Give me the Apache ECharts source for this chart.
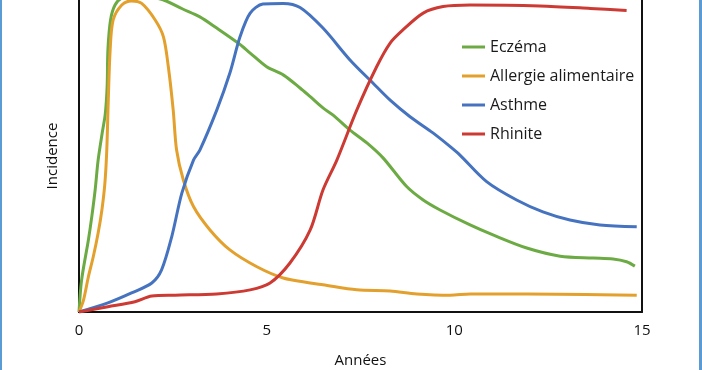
<!DOCTYPE html>
<html><head><meta charset="utf-8">
<script src="https://cdn.jsdelivr.net/npm/echarts@6/dist/echarts.min.js"></script>
<style>html,body{margin:0;padding:0;background:#fff}#c{width:702px;height:370px}</style>
</head><body><div id="c"></div>
<script>
const seriesNames = ['Eczéma', 'Allergie alimentaire', 'Asthme', 'Rhinite'];
const xTicks = [0, 5, 10, 15];
const eczema = [[0,0],[0.07,10.3],[0.25,23.1],[0.34,30.5],[0.43,39.1],[0.51,48.7],[0.62,57.5],[0.7,63.5],[0.75,72.4],[0.77,84.0],[0.84,93.6],[0.96,98.4],[1.15,100.6],[1.6,101],[2.1,100.5],[2.34,99.6],[2.75,97.2],[3.22,94.6],[3.67,91.0],[4.24,86.2],[4.56,83.0],[5.0,78.6],[5.44,76.0],[5.89,71.8],[6.16,69.0],[6.5,65.4],[6.77,63.1],[7.22,58.3],[7.67,54.2],[8.1,49.4],[8.73,40.2],[9.17,35.9],[9.62,32.7],[10.42,27.9],[11.03,24.7],[11.93,20.5],[12.82,17.9],[13.7,17.3],[14.23,17.0],[14.59,16.1],[14.81,14.7]];
const allergie = [[0,0],[0.12,3.8],[0.25,11.3],[0.38,17.7],[0.51,25.3],[0.61,32.7],[0.69,41.3],[0.74,51.9],[0.78,67.9],[0.83,84.0],[0.91,93.6],[1.14,98.4],[1.4,99.7],[1.67,98.9],[2.03,93.6],[2.25,88.2],[2.38,78.6],[2.51,64.7],[2.6,51.9],[2.78,42.3],[3.05,33.8],[3.49,26.3],[4.02,19.9],[4.74,14.5],[5.44,10.9],[6.16,9.3],[6.5,8.7],[7.4,7.1],[8.29,6.7],[9.0,5.8],[9.89,5.4],[10.42,5.8],[11.93,5.8],[14.86,5.4]];
const asthme = [[0,0],[0.77,2.9],[1.4,6.1],[1.94,9.3],[2.2,13.5],[2.47,24.1],[2.74,38.1],[3.05,48.7],[3.22,51.9],[3.67,64.7],[4.02,76.6],[4.29,88.2],[4.56,95.8],[4.9,98.7],[5.44,98.9],[5.89,97.6],[6.5,91.0],[7.22,80.8],[7.83,73.4],[8.29,67.9],[8.82,62.6],[9.43,57.4],[9.89,53.0],[10.15,50.3],[10.86,41.8],[11.66,35.9],[12.36,32.1],[13.08,29.5],[13.88,27.9],[14.86,27.3]];
const rhinite = [[0,0],[0.77,1.7],[1.49,3.3],[1.94,5.1],[2.56,5.4],[3.67,5.8],[4.56,7.1],[5.09,9.3],[5.62,15.7],[6.16,26.3],[6.5,39.1],[6.87,48.7],[7.4,64.7],[7.93,78.6],[8.29,86.2],[8.63,90.4],[9.17,95.8],[9.7,97.9],[10.42,98.4],[12.28,98.1],[13.62,97.3],[14.59,96.6]];
const colors = ['#6cab43', '#e3a02c', '#4673c0', '#cc3a33'];
const allData = [eczema, allergie, asthme, rhinite];

const chart = echarts.init(document.getElementById('c'), null, {renderer: 'canvas'});
const font = '"Open Sans", Roboto, sans-serif';
chart.setOption({
  animation: false,
  backgroundColor: '#fff',
  color: colors,
  grid: {left: 79, right: 60, top: 0, bottom: 58, containLabel: false, outerBoundsMode: 'none'},
  legend: {
    orient: 'vertical', left: 457, top: 34,
    itemWidth: 23, itemHeight: 3, itemGap: 13,
    icon: 'rect',
    data: seriesNames,
    textStyle: {fontFamily: font, fontSize: 16, color: '#1a1a1a', lineHeight: 16, padding: [0,0,0,0]}
  },
  xAxis: {
    type: 'value', min: 0, max: 15, interval: 5,
    axisLine: {show: true, lineStyle: {color: '#111', width: 2}},
    axisTick: {show: false}, splitLine: {show: false},
    axisLabel: {margin: 11, fontFamily: font, fontSize: 15, color: '#111',
      formatter: v => xTicks.includes(v) ? String(v) : ''},
    name: 'Années', nameLocation: 'middle', nameGap: 41,
    nameTextStyle: {fontFamily: font, fontSize: 15, color: '#111'}
  },
  yAxis: [{
    type: 'value', min: 0, max: 100, position: 'left',
    axisLine: {show: true, lineStyle: {color: '#111', width: 2}},
    axisTick: {show: false}, splitLine: {show: false}, axisLabel: {show: false},
    name: 'Incidence', nameLocation: 'middle', nameGap: 19, nameRotate: 90,
    nameTextStyle: {fontFamily: font, fontSize: 15, color: '#111'}
  }, {
    type: 'value', min: 0, max: 100, position: 'right',
    axisLine: {show: true, lineStyle: {color: '#111', width: 2}},
    axisTick: {show: false}, splitLine: {show: false}, axisLabel: {show: false}
  }],
  graphic: [
    {type: 'rect', shape: {x: 0, y: 0, width: 2, height: 370}, style: {fill: '#5b9bd5'}},
    {type: 'rect', shape: {x: 699, y: 0, width: 3, height: 370}, style: {fill: '#5b9bd5'}}
  ],
  series: seriesNames.map((n, i) => ({
    name: n, type: 'line', data: allData[i], smooth: 0.3, showSymbol: false, symbol: 'none',
    lineStyle: {width: 3, color: colors[i]}, itemStyle: {color: colors[i]}, clip: true
  }))
});
</script></body></html>
